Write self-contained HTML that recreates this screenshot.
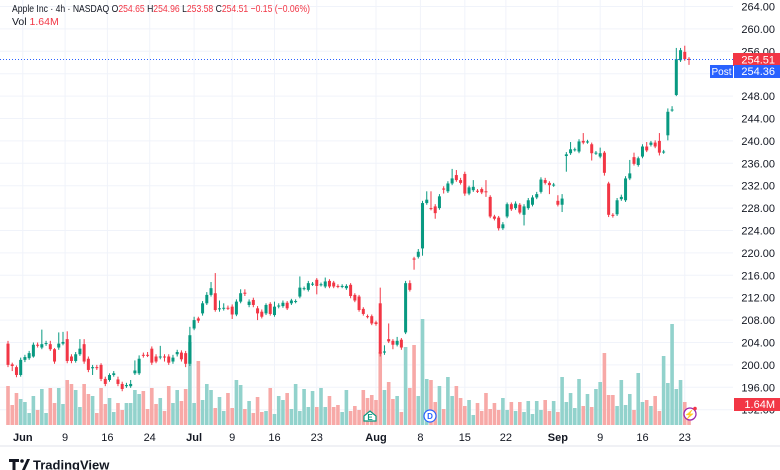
<!DOCTYPE html>
<html><head><meta charset="utf-8">
<style>
html,body{margin:0;padding:0;background:#fff;}
body{width:780px;height:470px;overflow:hidden;font-family:"Liberation Sans",sans-serif;position:relative;}
svg{position:absolute;left:0;top:0;}
</style></head>
<body>
<svg id="chart" width="780" height="470" xmlns="http://www.w3.org/2000/svg">
  <g id="grid"></g>
  <g id="vol"></g>
  <g id="candles"></g>
  <g id="yaxis"></g>
  <g id="xaxis"></g>
  <line x1="0" y1="59.5" x2="733" y2="59.5" stroke="#2962ff" stroke-width="1" stroke-dasharray="1,2"/>
  <rect x="733" y="53" width="47" height="13" fill="#f23645"/>
  <text x="775" y="63.5" font-size="11" fill="#fff" text-anchor="end">254.51</text>
  <rect x="710" y="65" width="23" height="13" fill="#2962ff"/>
  <text x="721.5" y="75" font-size="10" fill="#fff" text-anchor="middle">Post</text>
  <rect x="734" y="65" width="46" height="13" fill="#2962ff"/>
  <text x="775" y="75" font-size="11" fill="#fff" text-anchor="end">254.36</text>
  <rect x="734" y="398" width="46" height="13" fill="#f23645"/>
  <text x="775" y="408" font-size="11" fill="#fff" text-anchor="end">1.64M</text>
  <g>
    <path d="M364,416 L370,411 L376,416 L376,421 L364,421 Z" fill="#fff" stroke="#089981" stroke-width="1.2"/>
    <text x="370" y="420" font-size="8" fill="#089981" text-anchor="middle" font-weight="bold">E</text>
  </g>
  <g>
    <circle cx="430" cy="416" r="6" fill="#fff" stroke="#2962ff" stroke-width="1.2"/>
    <text x="430" y="419" font-size="8" fill="#2962ff" text-anchor="middle" font-weight="bold">D</text>
  </g>
  <g>
    <circle cx="690" cy="414" r="6" fill="#fff" stroke="#9c27b0" stroke-width="1.3"/>
    <text x="690" y="417.5" font-size="9" fill="#9c27b0" text-anchor="middle">⚡</text>
    <circle cx="695" cy="408.5" r="1.8" fill="#f23645"/>
  </g>
  <line x1="0" y1="446" x2="780" y2="446" stroke="#e0e3eb"/>
  <text x="12" y="12" font-size="10.5" fill="#131722" textLength="298" lengthAdjust="spacingAndGlyphs">Apple Inc · 4h · NASDAQ <tspan fill="#131722">O</tspan><tspan fill="#f23645">254.65</tspan> <tspan fill="#131722">H</tspan><tspan fill="#f23645">254.96</tspan> <tspan fill="#131722">L</tspan><tspan fill="#f23645">253.58</tspan> <tspan fill="#131722">C</tspan><tspan fill="#f23645">254.51 −0.15 (−0.06%)</tspan></text>
  <text x="12" y="25" font-size="10.5" fill="#131722">Vol <tspan fill="#f23645">1.64M</tspan></text>
  <g>
    <path d="M9,459 h10 v3 h-3.5 v8 h-3 v-8 h-3.5 z" fill="#131722"/>
    <circle cx="22" cy="461" r="1.8" fill="#131722"/>
    <path d="M22,470 L27,459 L30,459 L25,470 Z" fill="#131722"/>
    <text x="33" y="469.5" font-size="13" font-weight="bold" fill="#131722">TradingView</text>
  </g>
</svg>
<script>
const opens=[203.8,200.1,199.6,198.2,200.9,201.2,201.5,203.6,203.1,203.8,203.7,202.8,203.1,203.8,204.6,201.5,200.7,201.9,203.7,201.1,199.4,199.6,200,197.5,197.3,198.2,197.4,196.6,196.2,196.2,198.5,198.5,201.8,201.8,202.9,201.5,201.4,201.5,201.5,200.6,201.9,202.2,202.1,200.2,206.5,208.3,209.2,211,212.5,212.8,210,210.1,210.2,210.4,209,211.3,212.9,210.7,211.6,210.1,209.5,209.2,210.9,208.9,210.5,210.5,211.1,211,211.3,212.2,213.6,213.4,214.4,215.2,214.3,214,215,214.7,214.1,214,213.7,214.3,212.5,212.2,210,208.7,208.7,207.6,211,202.2,204.6,204.3,203.6,204.5,205.8,214.6,219,219.3,220.8,228.9,228,228.3,228,231.5,231,232.4,233.9,233,234.1,230.6,231.2,231.1,231.4,231,230,226.5,226.3,224.4,226.5,228.7,228,228.6,226.8,228,228.6,229.9,230.9,233,232.5,232.1,229.3,228.6,237.3,237.8,238.4,238.1,240,239.8,239.4,237.8,237.2,237.9,232.4,226.8,226.9,229.6,229.4,233.3,237.1,235.7,237.2,239,239.3,239.7,240,238,241,245.5,248.2,254.4,255.9,254.65];
const highs=[204.3,200.4,199.9,201.3,201.8,202.5,204,204,206.3,204.3,204.3,203,205.8,205.9,206,201.9,202.3,204.6,204.6,201.5,200,200,200.3,197.9,198.5,198.9,197.9,197,196.8,197.3,200.8,201.7,202.2,202.3,203.3,201.9,203.4,201.9,201.9,201.8,202.7,202.6,202.5,206.8,208.6,208.6,211.4,213,214.8,216.4,211.5,211,210.6,210.8,211.7,213.5,213.5,211.7,212,210.5,209.9,211,211.2,211.3,211,211.5,211.4,211.8,211.7,215.8,214,215,214.8,215.5,214.7,215.6,215.3,215,214.4,214.4,214.4,214.6,212.8,212.5,210.3,209,209,207.9,213.8,203.5,207.4,204.6,205,204.8,215,215.1,219.3,220.7,229.3,231,231,228.7,230.5,231.9,232.8,235,234.8,233.4,234.5,232,233,231.4,231.7,233,230.3,226.8,226.6,225.5,229,229,229.2,228.9,228.7,229.8,230.3,230.9,233.5,233.4,232.8,232.5,230.3,230.5,238,239.8,238.8,240.3,241.4,240.2,239.7,238.2,238.8,238.2,232.7,227.1,229.8,230.4,233.7,236.6,237.9,237.2,239.4,239.8,240,240.1,241.4,238.4,245.8,246.2,256.6,256.6,257,254.96];
const lows=[199.6,198.9,197.8,197.9,200.5,200.9,201.3,203.1,202.8,203.4,202.5,200.2,202.7,203.5,200.3,200.3,200.4,201.6,200.2,198.7,198.2,199.1,197.1,196.2,197,197.9,196.2,195.3,195.9,195.9,198.2,198.2,201.3,201.4,200,200.3,201,200.6,200,200.2,201.5,200.6,199.6,199.8,206.2,207.5,208.8,210.7,212.2,209.5,209.5,209.7,209.8,208.2,208.7,211,212.3,210.3,210.3,208,208.3,208.9,208.8,208.6,210.1,210.2,209.8,210.7,211,211.9,213.3,213.1,214.1,212.6,214,213.7,213.7,213.7,213.7,213.7,213.4,211.9,211.2,209.5,208.8,208.3,207.1,207,201.5,201.8,203.9,202.8,203.3,202.7,205.5,213.1,217,219,219.5,228.6,227.6,226.1,227.7,230.6,230.7,232.1,232.7,232.2,230.2,230.3,230.9,230.7,230.5,230,226.2,225.8,224,224.1,226.2,227.5,227.7,226.9,224.9,227.7,228.3,229.6,230.6,232.2,230.5,231.8,228.3,227.3,234.5,237.5,238.1,237.8,239.4,239.5,236.5,237.5,236.9,233.8,226.4,226.3,226.6,229.3,229.1,233,235.6,235.4,236.9,238,239,238.7,237.4,237.7,240.1,245.2,248,254.1,254.3,253.58];
const closes=[200,199.8,198.2,200.9,201.4,202.1,203.6,203.5,203.7,203.9,202.8,200.6,203.8,204.1,200.7,200.7,201.9,202.9,200.6,199.1,199.6,199.5,197.5,196.6,198.2,198.5,196.6,195.7,196.4,196.6,199,201.1,201.7,201.7,200.4,200.6,201.5,201.4,200.4,201.3,202.3,201,200.2,205.3,208,207.9,211,212.5,213.7,209.8,210.1,210.2,210.1,209,211.3,212.8,212.7,211.3,210.7,209.2,208.6,210.7,209.1,210.4,210.6,211.1,210.1,211.5,211.4,213.8,213.7,214.6,214.5,214.1,214.4,214.9,214,214,214,214.1,214.1,212.3,211.5,209.8,209.1,208.6,207.4,207.3,202,202.4,204.2,203.6,204.3,203.1,214.6,213.4,218.8,220.2,228.9,229.5,227.9,227.1,230.1,231.3,232.4,233.3,233,232.5,230.6,231.7,231.8,231,230.8,230.9,226.5,226.1,224.4,225.1,228.7,227.8,228.8,227.2,228.3,229.4,229.9,230.5,233.1,232.5,232.1,232.2,228.6,229.7,237.6,238.5,238.5,239.9,239.7,239.9,237.8,237.9,237.8,234.3,226.8,226.7,229.4,230,233.3,234.2,235.9,236.9,239,238.3,239.7,239,237.9,238.1,245.2,245.6,254.6,256.2,254.6,254.51];
const volumes=[39,20,32,26,23,12,29,15,36,12,37,22,37,21,45,41,35,18,41,31,29,12,37,21,27,13,22,15,22,22,35,31,34,16,37,21,27,14,39,22,35,24,36,83,22,64,25,41,35,17,28,14,32,17,45,40,16,24,12,28,13,14,37,11,29,25,32,16,41,14,36,18,34,18,37,18,29,18,20,13,35,14,19,15,35,27,30,25,73,35,43,26,29,13,78,37,80,29,106,46,45,23,39,16,48,29,39,27,19,25,10,22,14,32,16,22,15,27,15,23,14,23,13,24,11,24,15,25,14,24,13,48,23,32,17,46,19,31,18,36,43,72,30,30,19,45,20,31,15,52,23,25,19,29,14,69,42,101,36,45,23,17];
const priceTicks=[264,260,256,252,248,244,240,236,232,228,224,220,216,212,208,204,200,196,192];
const timeLabels=["Jun","9","16","24","Jul","9","16","23","Aug","8","15","22","Sep","9","16","23"];
const timeIdx=[3.5,13.5,23.5,33.5,44,53,63,73,87,97.5,108,117.7,130,140,150,160];
const timeBold=[true,false,false,false,true,false,false,false,true,false,false,false,true,false,false,false];

const NS="http://www.w3.org/2000/svg";
const PLOT_R=733, VOL_BASE=425;
function yP(p){return 6.5+(264-p)*5.6;}
function xI(i){return 8+i*(681/(opens.length-1));}
function yV(v){return VOL_BASE-v;}
function mk(tag,attrs,parent){const e=document.createElementNS(NS,tag);for(const k in attrs)e.setAttribute(k,attrs[k]);parent.appendChild(e);return e;}

const grid=document.getElementById('grid'), yax=document.getElementById('yaxis'), xax=document.getElementById('xaxis');
priceTicks.forEach(p=>{
  const y=yP(p);
  const l=mk('line',{x1:0,x2:PLOT_R,y1:y,y2:y,stroke:'#f0f3fa','stroke-width':1},grid);
  
  
  const t=mk('text',{x:775,y:y+4,'font-size':11,fill:'#131722','text-anchor':'end'},yax);
  t.textContent=p.toFixed(2);
  
  
});
timeLabels.forEach((lab,k)=>{
  const x=xI(timeIdx[k]);
  const l=mk('line',{x1:x,x2:x,y1:0,y2:VOL_BASE,stroke:'#f0f3fa','stroke-width':1},grid);
  
  
  const t=mk('text',{x:x,y:441,'font-size':11,fill:'#131722','text-anchor':'middle','font-weight':timeBold[k]?'bold':'normal'},xax);
  t.textContent=lab;
  
  
});
const vg=document.getElementById('vol'), cg=document.getElementById('candles');
opens.forEach((o,i)=>{
  const c=closes[i], up=c>=o, x=xI(i);
  const vb=mk('rect',{x:x-1.8,y:yV(volumes[i]),width:3.6,height:volumes[i],fill:up?'#92d2cc':'#f7a9a7'},vg);
  
  
  const col=up?'#089981':'#f23645';
  const w=mk('line',{x1:x,x2:x,y1:yP(highs[i]),y2:yP(lows[i]),stroke:col,'stroke-width':1},cg);
  
  
  const top=yP(Math.max(o,c)), h=Math.max(1,yP(Math.min(o,c))-top);
  const b=mk('rect',{x:x-1.5,y:top,width:3,height:h,fill:col},cg);
  
  
});
</script>
</body></html>
